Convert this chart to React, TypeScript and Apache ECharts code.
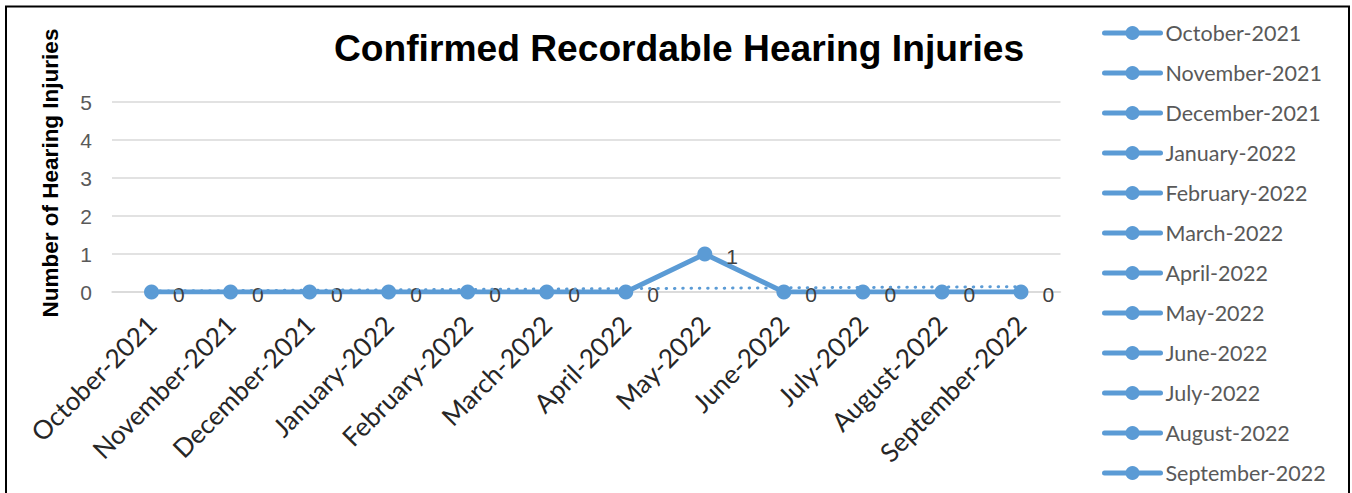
import React, { useEffect, useRef } from "react";
import * as echarts from "echarts";

const categories = [
  "October-2021",
  "November-2021",
  "December-2021",
  "January-2022",
  "February-2022",
  "March-2022",
  "April-2022",
  "May-2022",
  "June-2022",
  "July-2022",
  "August-2022",
  "September-2022",
];
const injuries = [0, 0, 0, 0, 0, 0, 0, 1, 0, 0, 0, 0];
const yTicks = [0, 1, 2, 3, 4, 5];

const title = "Confirmed Recordable Hearing Injuries";
const yAxisName = "Number of Hearing Injuries";

const BLUE = "#5B9BD5";

function linearTrend(values: number[]): number[] {
  const n = values.length;
  const xs = values.map((_, i) => i + 1);
  const mx = xs.reduce((a, b) => a + b, 0) / n;
  const my = values.reduce((a, b) => a + b, 0) / n;
  let num = 0;
  let den = 0;
  for (let i = 0; i < n; i++) {
    num += (xs[i] - mx) * (values[i] - my);
    den += (xs[i] - mx) * (xs[i] - mx);
  }
  const slope = num / den;
  return xs.map((x) => my + slope * (x - mx));
}

export default function App() {
  const ref = useRef<HTMLDivElement>(null);
  useEffect(() => {
    if (!ref.current) return;
    const chart = echarts.init(ref.current, undefined, { renderer: "svg" });
    const trend = linearTrend(injuries);
    const legendSeries = categories.map((name) => ({
      name,
      type: "line" as const,
      data: [] as number[],
      symbol: "circle",
      symbolSize: 15,
      itemStyle: { color: BLUE },
      lineStyle: { color: BLUE, width: 5 },
    }));
    chart.setOption({
      animation: false,
      backgroundColor: "#ffffff",
      title: {
        text: title,
        left: 674,
        top: 24,
        textAlign: "center",
        textStyle: {
          fontFamily: "Liberation Sans, Arial, sans-serif",
          fontSize: 37.2,
          fontWeight: "bold",
          color: "#000000",
        },
      },
      legend: {
        orient: "vertical",
        left: 1102,
        top: 22,
        height: 470,
        padding: 0,
        itemWidth: 56,
        itemHeight: 17.5,
        itemGap: 18,
        selectedMode: false,
        data: categories,
        lineStyle: { width: 5, color: BLUE, cap: "round" },
        itemStyle: { color: BLUE },
        textStyle: {
          fontFamily: "Lato, sans-serif",
          fontSize: 21.5,
          color: "#595959",
        },
      },
      grid: {
        left: 112,
        right: 291.5,
        top: 102,
        bottom: 201,
        containLabel: false,
      },
      xAxis: {
        type: "category",
        data: categories,
        boundaryGap: true,
        axisLine: { show: true, lineStyle: { color: "#d9d9d9", width: 1.5 } },
        axisTick: { show: false },
        axisLabel: {
          rotate: 45,
          interval: 0,
          margin: 28,
          fontFamily: "Lato, sans-serif",
          fontSize: 26,
          color: "#262626",
        },
      },
      yAxis: {
        type: "value",
        min: yTicks[0],
        max: yTicks[yTicks.length - 1],
        interval: 1,
        name: yAxisName,
        nameLocation: "middle",
        nameGap: 50,
        nameTextStyle: {
          fontFamily: "Liberation Sans, Arial, sans-serif",
          fontSize: 22.5,
          fontWeight: "bold",
          color: "#000000",
          padding: [0, 0, 0, 48],
        },
        axisLine: { show: false },
        axisTick: { show: false },
        splitLine: { lineStyle: { color: "#d9d9d9", width: 1.5 } },
        axisLabel: {
          margin: 20,
          fontFamily: "Liberation Sans, Arial, sans-serif",
          fontSize: 21,
          color: "#595959",
        },
      },
      graphic: [
        {
          type: "rect",
          shape: { x: 6, y: 6.5, width: 1343, height: 520 },
          style: { fill: "none", stroke: "#000000", lineWidth: 2 },
          silent: true,
          z: 100,
        },
      ],
      series: [
        {
          name: "Injuries",
          type: "line",
          data: injuries,
          symbol: "circle",
          symbolSize: 15,
          itemStyle: { color: BLUE },
          lineStyle: { color: BLUE, width: 5 },
          label: {
            show: true,
            position: "right",
            distance: 14,
            offset: [0, 2],
            fontFamily: "Liberation Sans, Arial, sans-serif",
            fontSize: 21,
            color: "#404040",
          },
          z: 3,
        },
        {
          name: "Trend",
          type: "line",
          data: trend,
          symbol: "none",
          silent: true,
          lineStyle: { color: BLUE, width: 3, type: [0.5, 7.8], cap: "round" },
          z: 4,
        },
        ...legendSeries,
      ],
    });
    return () => chart.dispose();
  }, []);
  return (
    <div
      ref={ref}
      style={{ position: "absolute", left: 0, top: 0, width: 1352, height: 493 }}
    />
  );
}
